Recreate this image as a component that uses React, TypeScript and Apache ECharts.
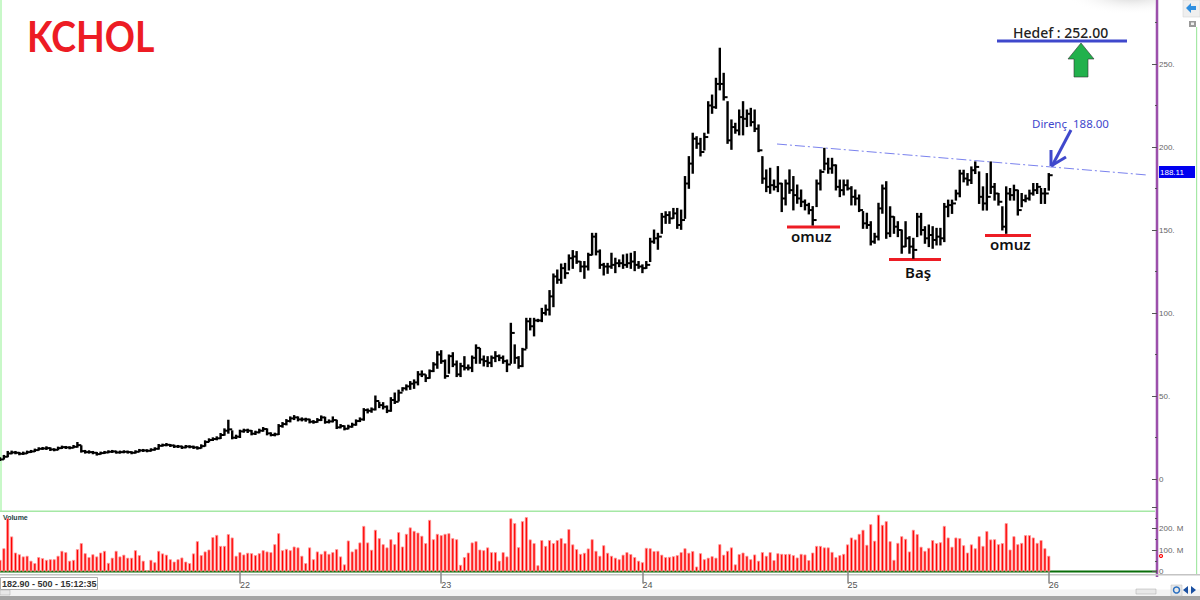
import React, { useEffect, useRef } from 'react';
import * as echarts from 'echarts';

const highs = [
  12.8, 14.2, 16.6, 16.8, 16.6, 16.0, 16.2, 16.8, 17.2, 18.0,
  18.8, 19.0, 19.4, 18.8, 18.2, 19.2, 19.8, 19.6, 19.4, 20.2,
  22.0, 20.0, 17.2, 17.0, 16.6, 16.0, 16.2, 16.6, 17.0, 17.2,
  16.8, 16.8, 17.0, 16.8, 16.4, 17.0, 17.8, 17.8, 17.6, 18.2,
  18.8, 20.8, 21.0, 21.4, 20.8, 20.4, 20.2, 19.8, 20.2, 20.0,
  19.8, 19.4, 20.6, 23.0, 24.2, 24.8, 25.4, 27.4, 30.2, 35.4,
  29.0, 26.4, 29.4, 30.0, 30.0, 29.2, 28.8, 30.0, 31.0, 30.2,
  27.8, 27.6, 32.8, 34.0, 35.8, 37.4, 38.2, 37.4, 36.8, 36.6,
  36.0, 35.2, 36.4, 38.0, 37.2, 35.6, 37.4, 35.4, 32.8, 32.0,
  32.4, 33.6, 35.6, 36.8, 42.4, 42.2, 42.8, 50.0, 46.2, 46.0,
  44.0, 49.0, 51.8, 53.5, 55.0, 56.7, 58.7, 59.7, 64.7, 65.1,
  62.7, 65.7, 70.1, 76.7, 77.3, 71.7, 74.7, 76.1, 71.1, 69.7,
  73.7, 68.7, 74.1, 80.8, 78.7, 74.1, 73.7, 74.1, 76.7, 74.7,
  74.1, 71.7, 93.8, 80.8, 73.7, 78.7, 96.8, 96.8, 96.8, 96.2,
  102.8, 104.8, 113.5, 123.5, 125.9, 129.5, 129.9, 135, 137.6, 137,
  131, 131, 136, 148, 148, 138, 129.9, 129.9, 136, 133,
  132, 135, 135.5, 136, 137, 131, 129, 131, 145, 150,
  148, 160, 161, 161, 163, 163, 162, 182.2, 194.2, 208.3,
  206.2, 205.2, 208.3, 227.3, 231.3, 241.4, 259.5, 244.4, 227.3, 216.3,
  214.3, 222.3, 227.3, 222.3, 223.3, 222.3, 213.3, 194.2, 186.2, 187.2,
  180.1, 188.2, 178.1, 180.1, 186.2, 182.2, 177.1, 174.1, 168.1, 166.1,
  164.1, 180.1, 186.2, 199.2, 193.2, 193.2, 189.2, 180.1, 180.1, 180.1,
  176.1, 174.1, 171.1, 161.1, 160.1, 155, 148, 166.1, 177.1, 179.1,
  164, 158, 155, 150, 155, 146, 145, 160, 160, 152,
  153, 152, 151, 151, 166, 168, 168, 174, 186, 186,
  184, 188, 191, 185, 176, 184, 191, 178, 172, 164,
  176, 175, 177, 174, 172, 171, 174, 178, 178, 175,
  175, 184,
];

const lows = [
  11.2, 12.0, 13.4, 15.2, 15.2, 14.6, 14.8, 15.4, 16.0, 16.6,
  17.4, 17.8, 17.8, 17.2, 17.0, 17.6, 18.4, 18.4, 18.2, 18.8,
  19.2, 16.2, 15.6, 15.6, 15.2, 14.4, 15.0, 15.4, 15.8, 16.0,
  15.6, 15.6, 15.8, 15.6, 15.2, 15.6, 16.4, 16.6, 16.4, 16.8,
  17.4, 18.0, 19.8, 20.0, 19.6, 19.0, 19.0, 18.4, 18.8, 18.8,
  18.4, 18.0, 18.6, 19.8, 22.4, 23.2, 23.6, 24.4, 26.4, 27.6,
  24.2, 24.4, 25.0, 28.2, 28.0, 26.6, 26.8, 27.8, 28.8, 26.6,
  26.0, 26.0, 26.8, 31.2, 32.6, 34.4, 35.8, 35.0, 35.0, 34.8,
  33.8, 33.6, 34.2, 35.2, 33.6, 33.8, 34.4, 30.4, 30.8, 29.6,
  30.2, 31.2, 32.4, 34.6, 35.4, 39.8, 40.2, 41.6, 43.0, 42.2,
  40.0, 40.8, 45.5, 47.0, 53.0, 53.6, 54.0, 54.6, 56.7, 61.7,
  58.7, 60.7, 64.7, 66.7, 69.7, 60.7, 63.7, 67.7, 61.7, 61.7,
  65.7, 65.7, 64.7, 69.7, 69.7, 68.1, 67.7, 67.7, 70.7, 71.3,
  69.7, 64.7, 69.7, 69.7, 66.7, 67.7, 78.7, 89.8, 86.2, 94.8,
  94.8, 98.8, 98.8, 103.8, 117.9, 117.9, 120.9, 125.9, 126.9, 129.9,
  124.9, 120.9, 125.9, 135, 135, 126.9, 122.9, 123.9, 126.9, 124.3,
  127.9, 126.9, 127.5, 126.9, 125.5, 126.9, 124.3, 126.9, 131, 142,
  138.4, 148, 154, 154, 157, 151, 150.4, 157, 175.1, 184.2,
  199.2, 194.6, 198.2, 208.3, 220.3, 223.3, 234.4, 228.3, 202.2, 198.6,
  208.3, 207.3, 207.3, 212.3, 212.7, 209.3, 197.2, 178.1, 173.1, 172.1,
  174.1, 173.1, 161.1, 165.1, 172.1, 162.1, 166.1, 164.1, 162.1, 159.7,
  153, 164.1, 174.1, 186.2, 184.2, 184.2, 174.1, 170.1, 171.1, 174.1,
  165.1, 165.1, 161.1, 151, 151, 141, 142, 144, 160.1, 145,
  146, 148, 146, 136, 140, 136, 133, 146, 147, 142,
  140, 139, 141, 141, 143, 158, 160, 168, 170, 179,
  177, 178, 184, 166, 162, 162, 172, 168, 165, 150,
  148, 168, 168, 159, 164, 167, 168, 171, 172, 166,
  166, 174,
];

const closes = [
  11.8, 13.4, 15.4, 16.0, 15.8, 15.2, 15.4, 16.2, 16.6, 17.4,
  18.2, 18.4, 18.6, 17.8, 17.6, 18.6, 19.2, 19.0, 18.8, 19.4,
  20.4, 16.8, 16.2, 16.2, 15.8, 15.0, 15.6, 16.0, 16.4, 16.6,
  16.0, 16.2, 16.4, 16.2, 15.8, 16.4, 17.2, 17.2, 17.0, 17.6,
  18.2, 20.0, 20.4, 20.6, 20.2, 19.6, 19.6, 19.0, 19.6, 19.4,
  19.0, 18.6, 19.8, 22.3, 23.5, 24.1, 24.5, 26.5, 29.1, 29.9,
  24.9, 25.5, 28.7, 29.3, 29.1, 27.3, 28.1, 29.1, 30.1, 27.5,
  26.5, 26.9, 31.9, 33.1, 34.9, 36.5, 37.1, 35.9, 35.9, 35.9,
  34.5, 34.3, 35.5, 37.1, 34.3, 34.7, 35.5, 31.1, 31.9, 30.3,
  31.5, 32.7, 34.9, 35.9, 41.5, 41.1, 41.9, 47.0, 44.5, 43.5,
  41.1, 47.6, 46.5, 52.0, 54.6, 55.8, 57.4, 58.2, 63.0, 63.0,
  60.8, 65.0, 69.0, 75.0, 71.0, 62.0, 74.0, 69.0, 63.0, 68.0,
  67.0, 67.0, 73.0, 79.0, 72.0, 71.0, 70.0, 73.0, 74.0, 73.0,
  71.0, 69.0, 88.0, 73.0, 68.0, 78.0, 95.0, 92.0, 95.5, 95.5,
  100, 102, 110, 122, 120, 127, 124, 133, 134, 131,
  128, 128, 135, 146, 137, 129, 128, 128, 129, 130,
  130, 129, 130, 131, 129, 128, 127, 129, 143, 145,
  146, 158, 159, 157, 160, 153, 156, 178, 190, 205,
  202, 197, 206, 225, 224, 238, 238, 230, 204, 212,
  210, 218, 217, 220, 215, 211, 198, 181, 176, 177,
  176, 178, 169, 178, 174, 171, 169, 167, 165, 162,
  156, 178, 185, 190, 187, 189, 176, 174, 177, 175,
  170, 169, 162, 154, 153, 143, 146, 163, 175, 148,
  158, 152, 150, 140, 145, 140, 138, 158, 150, 145,
  147, 144, 146, 145, 164, 165, 166, 172, 184, 181,
  180, 186, 188, 170, 166, 170, 176, 172, 167, 152,
  172, 171, 174, 162, 168, 169, 172, 174, 176, 172,
  172, 183,
];

// millions of shares
const volumes = [
  54, 108, 248, 163, 88, 80, 70, 73, 50, 39,
  67, 62, 54, 57, 57, 73, 96, 90, 50, 54,
  104, 132, 85, 67, 80, 70, 88, 96, 40, 64,
  96, 70, 78, 64, 64, 99, 76, 50, 6, 54,
  43, 96, 84, 78, 57, 46, 57, 65, 46, 39,
  84, 141, 76, 93, 102, 160, 170, 119, 119, 174,
  158, 73, 90, 79, 87, 85, 76, 85, 99, 93,
  90, 127, 178, 99, 105, 99, 116, 112, 73, 39,
  112, 57, 93, 82, 96, 82, 90, 104, 70, 33,
  144, 93, 105, 135, 212, 135, 101, 194, 155, 127,
  112, 150, 127, 183,
  116, 175, 205, 189, 181, 166, 132, 240, 150, 175,
  169, 175, 178, 155, 150, 31, 67, 88, 135, 141,
  102, 99, 112, 90, 90, 50, 90, 70, 247, 225,
  113, 234, 253, 149, 132, 29, 146, 119, 146, 132,
  146, 155, 132, 197, 126, 104, 82, 87, 107, 150,
  96, 73, 122, 87, 73, 64, 57, 78, 90, 81,
  67, 50, 43, 110, 108, 95, 96, 78, 67, 68,
  71, 76, 90, 108, 87, 95, 23, 85, 57, 64,
  71, 64, 127, 78, 96, 112, 33, 81, 88, 73,
  57, 79, 50, 90, 73, 90, 53, 85, 82, 81,
  82, 76, 65,
  82, 79, 53, 88, 119, 119, 112, 112, 91, 67,
  76, 82, 126, 158, 149, 175, 194, 124, 220, 143,
  264, 217, 234, 141, 54, 133, 164, 152, 93, 194,
  174, 115, 96, 110, 146, 132, 136, 212, 158, 115,
  158, 155, 122, 88, 126, 108, 164, 119, 188, 149,
  150, 127, 132, 225, 102, 164, 127, 133, 169, 169,
  158, 133, 146, 108, 73,
];

const slotCount = 299;
const yearSlots = [62, 114, 166, 219, 271];
const yearNames = ['22', '23', '24', '25', '26'];
const slots = Array.from({ length: slotCount }, (_, i) => {
  const at = yearSlots.indexOf(i);
  return at >= 0 ? yearNames[at] : '';
});

const priceTicks = [0, 50, 100, 150, 200, 250];
const volumeTicks = [0, 100, 200];

const axisFont = 'Liberation Sans';
const annotationBlue = '#3f48cc';
const supportRed = '#ed1c24';

const box = (x: number, y: number, width: number, height: number, fill: string, extra: object = {}) => ({
  type: 'rect',
  shape: { x, y, width, height },
  style: { fill },
  silent: true,
  ...extra,
});

const stroke = (x1: number, y1: number, x2: number, y2: number, color: string, lineWidth: number, extra: object = {}) => ({
  type: 'line',
  shape: { x1, y1, x2, y2 },
  style: { stroke: color, lineWidth, ...extra },
  silent: true,
});

const label = (text: string, x: number, y: number, font: string, fill: string, extra: object = {}) => ({
  type: 'text',
  x,
  y,
  style: { text, font, fill, textVerticalAlign: 'middle' },
  silent: true,
  ...extra,
});

const App: React.FC = () => {
  const chartRef = useRef<HTMLDivElement>(null);

  useEffect(() => {
    if (!chartRef.current) return;
    const chart = echarts.init(chartRef.current, undefined, { renderer: 'svg' });

    const renderBar = (params: any, api: any) => {
      const [x, yHigh] = api.coord([api.value(0), api.value(1)]);
      const [, yLow] = api.coord([api.value(0), api.value(2)]);
      const [, yClose] = api.coord([api.value(0), api.value(3)]);
      return {
        type: 'group',
        children: [
          { type: 'line', shape: { x1: x, y1: yHigh - 0.5, x2: x, y2: yLow + 0.5 }, style: { stroke: '#000', lineWidth: 2.4 } },
          { type: 'line', shape: { x1: x, y1: yClose, x2: x + 3.9, y2: yClose }, style: { stroke: '#000', lineWidth: 2 } },
        ],
      };
    };

    const yAxisCommon = {
      type: 'value',
      position: 'right',
      offset: 1.8,
      splitLine: { show: false },
      axisLine: { show: false },
      axisTick: { show: true, inside: true, length: 5, lineStyle: { color: '#555' } },
      minorTick: { show: true, splitNumber: 2, length: 2, lineStyle: { color: '#555' } },
    };

    chart.setOption({
      animation: false,
      backgroundColor: '#fff',
      grid: [
        { left: -1.935, width: 1157.13, top: -19, height: 498, outerBoundsMode: 'none' },
        { left: -1.935, width: 1157.13, top: 507, height: 64.5, outerBoundsMode: 'none' },
      ],
      xAxis: [
        { type: 'category', gridIndex: 0, data: slots, show: false },
        {
          type: 'category',
          gridIndex: 1,
          data: slots,
          offset: 5.5,
          axisLine: { show: false },
          axisTick: {
            show: true,
            alignWithLabel: true,
            length: 12,
            interval: (i: number) => yearSlots.includes(i),
            lineStyle: { color: '#888', width: 1.5 },
          },
          axisLabel: {
            interval: (i: number) => yearSlots.includes(i),
            align: 'left',
            margin: 3,
            padding: [0, 0, 0, 0],
            fontSize: 9,
            fontFamily: axisFont,
            color: '#555',
          },
        },
      ],
      yAxis: [
        {
          ...yAxisCommon,
          gridIndex: 0,
          min: 0,
          max: 300,
          interval: 50,
          axisLabel: {
            margin: 2,
            fontSize: 8,
            fontFamily: axisFont,
            color: '#666',
            formatter: (v: number) => (priceTicks.includes(v) ? (v === 0 ? '0' : `${v}.`) : ''),
          },
        },
        {
          ...yAxisCommon,
          gridIndex: 1,
          min: 0,
          max: 300,
          interval: 100,
          axisLabel: {
            margin: 2,
            fontSize: 8,
            fontFamily: axisFont,
            color: '#666',
            formatter: (v: number) => (volumeTicks.includes(v) ? (v === 0 ? '0' : `${v}. M`) : ''),
          },
        },
      ],
      series: [
        {
          type: 'custom',
          xAxisIndex: 0,
          yAxisIndex: 0,
          clip: false,
          renderItem: renderBar,
          encode: { x: 0, y: [1, 2, 3] },
          data: highs.map((h, i) => [i, h, lows[i], closes[i]]),
        },
        {
          type: 'bar',
          xAxisIndex: 1,
          yAxisIndex: 1,
          barWidth: 3,
          itemStyle: { color: '#ff0000', borderColor: '#ff9c9c', borderWidth: 0.8 },
          data: volumes,
        },
      ],
      graphic: { elements: [
        // window frame and axes
        box(0, 0, 2, 512, '#c8f8c8'),
        box(0, 510.5, 1157, 1.5, '#a5e8a5'),
        box(1196, 27, 1.2, 548, '#a5e8a5'),
        box(1155, 0, 4, 577, '#e2d0e8'),
        box(1156.2, 0, 1.6, 577, '#8b2f9b'),
        box(0, 570.6, 1157, 2, '#0a6e0a'),
        box(0, 574, 1200, 1.5, '#c4c4c4'),
        box(0, 589.5, 1200, 6.5, '#f3f3f3'),
        box(0, 596, 1200, 4, '#a4a4a4'),
        box(0, 590, 10, 5, '#e4e4e4', { style: { fill: '#e8e8e8', stroke: '#aaa', lineWidth: 0.5 } }),
        box(1136, 589, 20, 5, '#e8e8e8', { style: { fill: '#e8e8e8', stroke: '#aaa', lineWidth: 0.5 } }),
        box(1171, 585, 11, 11, '#e8e8e8', { style: { fill: '#e8e8e8', stroke: '#bbb', lineWidth: 0.5 } }),
        { type: 'circle', shape: { cx: 1176.5, cy: 590, r: 3 }, style: { fill: 'none', stroke: '#2a6fc0', lineWidth: 1.5 }, silent: true },
        { type: 'polygon', shape: { points: [[1183, 590], [1188, 586], [1188, 594]] }, style: { fill: '#1a4fa0' }, silent: true },
        { type: 'polygon', shape: { points: [[1196, 590], [1191, 586], [1191, 594]] }, style: { fill: '#1a4fa0' }, silent: true },
        {
          type: 'rect',
          shape: { x: 1060, y: 0, width: 96, height: 30 },
          style: {
            fill: {
              type: 'radial',
              x: 0.75,
              y: -0.2,
              r: 0.7,
              colorStops: [
                { offset: 0, color: 'rgba(190,190,190,0.8)' },
                { offset: 1, color: 'rgba(255,255,255,0)' },
              ],
            },
          },
          silent: true,
        },
        box(1183, 0, 17, 17, '#efefef', { style: { fill: '#efefef', stroke: '#ccc', lineWidth: 0.5 } }),
        { type: 'polygon', shape: { points: [[1186, 8], [1191, 3], [1191, 6], [1196, 6], [1196, 10], [1191, 10], [1191, 13]] }, style: { fill: '#2f8fe0' }, silent: true },
        box(1189, 21, 7, 6, '#999'),
        box(1191, 22.5, 3, 2.5, '#eee'),
        // status text and panel title
        box(0.5, 577.5, 97, 12, '#fff', { style: { fill: '#fff', stroke: '#999', lineWidth: 0.8 } }),
        label('182.90 - 500 - 15:12:35', 2, 584, 'bold 9px "Liberation Sans"', '#333'),
        label('Volume', 3, 517.5, 'bold 7px "Liberation Sans"', '#244'),
        // hand-drawn annotations
        label('KCHOL', 27, 36, 'bold 42px Lato', supportRed, { scaleX: 0.89 }),
        label('Hedef : 252.00', 1013, 32, '500 14px "Noto Sans"', '#222'),
        stroke(997, 41, 1127, 41, annotationBlue, 3),
        {
          type: 'polygon',
          shape: { points: [[1081, 43], [1094, 59], [1088, 59], [1088, 77], [1074, 77], [1074, 59], [1068, 59]] },
          style: { fill: '#22b14c', stroke: '#333', lineWidth: 0.6 },
          silent: true,
        },
        label('Direnç  188.00', 1032, 123.5, '11.5px "Noto Sans"', annotationBlue),
        stroke(777, 144, 1147, 175, '#7a82ee', 1, { lineDash: [10, 3, 2, 3] }),
        stroke(1071, 130, 1052, 166, annotationBlue, 3),
        stroke(1051, 150, 1051, 166, annotationBlue, 3),
        stroke(1051, 166, 1066, 157, annotationBlue, 3),
        stroke(787, 227, 840, 227, supportRed, 3),
        stroke(889, 259.5, 941, 259.5, supportRed, 3),
        stroke(985, 235.5, 1031, 235.5, supportRed, 3),
        label('omuz', 791, 236, '600 15px "Noto Sans"', '#111'),
        label('Baş', 905, 271.5, '600 15px "Noto Sans"', '#111'),
        label('omuz', 990, 243.5, '600 15px "Noto Sans"', '#111'),
        // last-price flag and volume marker
        box(1159, 166, 36, 12, '#0000f0'),
        label('188.11', 1160, 172, '8px "Liberation Sans"', '#fff'),
        { type: 'circle', shape: { cx: 1161, cy: 556, r: 1.5 }, style: { fill: '#fff', stroke: '#f00', lineWidth: 1.2 }, silent: true },
      ] },
    });

    return () => {
      chart.dispose();
    };
  }, []);

  return <div ref={chartRef} style={{ position: 'fixed', left: 0, top: 0, width: 1200, height: 600 }} />;
};

export default App;
